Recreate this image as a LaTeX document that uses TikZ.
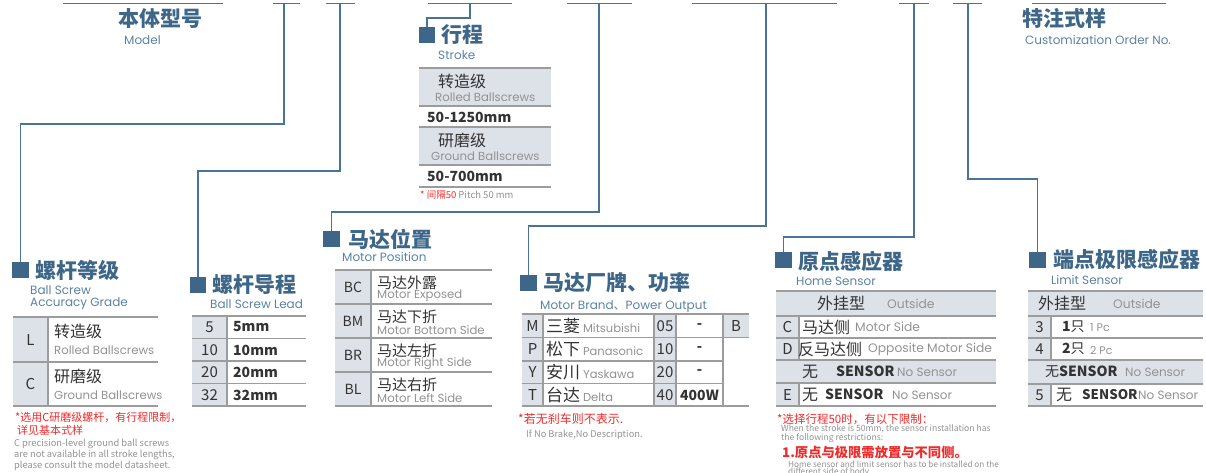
\documentclass[tikz,border=0pt]{standalone}
\usepackage{fontspec}
\newfontfamily\cjk{Noto Sans CJK SC}
\newfontfamily\en{Poppins}
\newcommand\fs[1]{\fontsize{#1}{#1}\selectfont}
\definecolor{linec}{HTML}{4A7496}
\definecolor{titlec}{HTML}{3D6688}
\definecolor{subc}{HTML}{5A82A4}
\definecolor{graybg}{HTML}{DDE1E8}
\definecolor{tlinec}{HTML}{9C9C9C}
\definecolor{txtc}{HTML}{333333}
\definecolor{engc}{HTML}{929292}
\definecolor{redc}{HTML}{EE2A2A}
\tikzset{
 conn/.style={draw=linec, line width=1.4pt},
 mk/.style={fill=titlec, minimum size=16.5pt, inner sep=0pt, draw=none},
 ttlsty/.style={anchor=west, inner sep=0pt, text=titlec, font=\cjk\bfseries\fs{21}},
 substy/.style={anchor=west, inner sep=0pt, text=subc, font=\en\fs{12}},
 cnsty/.style={anchor=west, inner sep=0pt, text=txtc, font=\cjk\fs{16}},
 ensty/.style={anchor=west, inner sep=0pt, text=engc, font=\en\fs{11.7}},
 tcode/.style={inner sep=0pt, text=txtc, font=\cjk\fs{15}},
 bnum/.style={anchor=west, inner sep=0pt, text=txtc, font=\cjk\bfseries\fs{14}},
 rednote/.style={anchor=west, inner sep=0pt, text=redc, font=\cjk\fs{11}},
 graynote/.style={anchor=west, inner sep=0pt, text=engc, font=\cjk\fs{9.3}},
 gfill/.style={fill=graybg, draw=none},
 tl/.style={draw=tlinec, line width=1.2pt},
}
\begin{document}
\begin{tikzpicture}[x=1pt,y=-1pt]
\useasboundingbox (0,0) rectangle (1206,472);
% ---------- top bars ----------
\draw[conn] (63,3.5) -- (223,3.5);
\draw[conn] (273,3.5) -- (300,3.5);
\draw[conn] (326,3.5) -- (355,3.5);
\draw[conn] (428,3.5) -- (512,3.5);
\draw[conn] (567,3.5) -- (632,3.5);
\draw[conn] (692,3.5) -- (837,3.5);
\draw[conn] (899,3.5) -- (929,3.5);
\draw[conn] (953,3.5) -- (982,3.5);
\draw[conn] (1032,3.5) -- (1166,3.5);
\coordinate (tA) at (284,3.5);
\coordinate (tB) at (340,3.5);
\coordinate (tS) at (470,3.5);
\coordinate (tC) at (599,3.5);
\coordinate (tD) at (766,3.5);
\coordinate (tE) at (914,3.5);
\coordinate (tF) at (968,3.5);
% ---------- headings ----------
\node[ttlsty] (hModel) at (118,19) {本体型号};
\node[substy] (hModelE) at (124,40) {Model};
\node[ttlsty] (hCust) at (1022,18) {特注式样};
\node[substy] (hCustE) at (1025,40) {Customization Order No.};
% ---------- markers ----------
\node[mk] (mk0) at (427,35) {};
\node[mk] (mk1) at (20.5,270) {};
\node[mk] (mk2) at (198,285) {};
\node[mk] (mk3) at (331.5,239) {};
\node[mk] (mk4) at (528.5,283) {};
\node[mk] (mk5) at (783.5,260) {};
\node[mk] (mk6) at (1037.5,260) {};
% ---------- connectors ----------
\draw[conn] (tS) -- ++(0,14.5) -| (mk0.north);
\draw[conn] (tA) -- ++(0,120.5) -| (mk1.north);
\draw[conn] (tB) -- ++(0,167.5) -| (mk2.north);
\draw[conn] (tC) -- ++(0,208.5) -| (mk3.north);
\draw[conn] (tD) -- ++(0,222.5) -| (mk4.north);
\draw[conn] (tE) -- ++(0,233.5) -| (mk5.north);
\draw[conn] (tF) -- ++(0,175.5) -| (mk6.north);
% ================= Stroke =================
\node[ttlsty] (hS) at (441,35) {行程};
\node[substy] (hSE) at (438,55) {Stroke};
\fill[gfill] (419,68) rectangle (551,106);
\fill[gfill] (419,127) rectangle (551,165);
\foreach \yy in {68,106,127,165,187} \draw[tl] (419,\yy) -- (551,\yy);
\node[cnsty] (s1) at (438,81) {转造级};
\node[ensty] (s1e) at (435,97) {Rolled Ballscrews};
\node[bnum] (s2) at (427,117) {50-1250mm};
\node[cnsty] (s3) at (438,140) {研磨级};
\node[ensty] (s3e) at (431,156) {Ground Ballscrews};
\node[bnum] (s4) at (427,176) {50-700mm};
\node[rednote, font=\cjk\fs{9.5}] (sn) at (420,195) {* 间隔50 \textcolor{engc}{Pitch 50 mm}};
% ================= Accuracy grade =================
\node[ttlsty] (hA) at (35,270) {螺杆等级};
\node[substy] (hAE1) at (30,290) {Ball Screw};
\node[substy] (hAE2) at (30,304) {Accuracy Grade};
\fill[gfill] (13,317) rectangle (48,406);
\foreach \yy in {317,362,406} \draw[tl] (13,\yy) -- (158,\yy);
\draw[tl] (48,317) -- (48,406);
\node[tcode] (aL) at (30.5,340) {L};
\node[tcode] (aC) at (30.5,384) {C};
\node[cnsty] (a1) at (54,331) {转造级};
\node[ensty] (a1e) at (54,350) {Rolled Ballscrews};
\node[cnsty] (a2) at (54,376) {研磨级};
\node[ensty] (a2e) at (54,395) {Ground Ballscrews};
\node[rednote] (an1) at (15,417) {*选用C研磨级螺杆，有行程限制，};
\node[rednote] (an2) at (17,430) {详见基本式样};
\node[graynote] (an3) at (14,444) {C precision-level ground ball screws};
\node[graynote] (an4) at (14,455) {are not available in all stroke lengths,};
\node[graynote] (an5) at (14,465.5) {please consult the model datasheet.};
% ================= Lead =================
\node[ttlsty] (hL) at (212,285) {螺杆导程};
\node[substy] (hLE) at (210,304) {Ball Screw Lead};
\fill[gfill] (192,316) rectangle (227,406);
\foreach \yy in {316,338.5,361,383.5,406} \draw[tl] (192,\yy) -- (306,\yy);
\draw[tl] (227,316) -- (227,406);
\foreach \v/\yy [count=\i] in {5/327,10/350,20/372,32/395}{
  \node[tcode] (lc\i) at (209.5,\yy) {\v};
  \node[bnum] (lv\i) at (233,\yy) {\v mm};
}
% ================= Motor position =================
\node[ttlsty] (hP) at (348,239) {马达位置};
\node[substy] (hPE) at (342,257) {Motor Position};
\fill[gfill] (335,270) rectangle (371,406);
\foreach \yy in {270,304,338,372,406} \draw[tl] (335,\yy) -- (492,\yy);
\draw[tl] (371,270) -- (371,406);
\foreach \c/\z/\e/\t [count=\i] in {BC/马达外露/Motor Exposed/270,BM/马达下折/Motor Bottom Side/304,BR/马达左折/Motor Right Side/338,BL/马达右折/Motor Left Side/372}{
  \node[tcode, font=\cjk\fs{14}] (pc\i) at (353,\t+17) {\c};
  \node[cnsty, font=\cjk\fs{15}] (pz\i) at (377,\t+13) {\z};
  \node[ensty] (pe\i) at (377,\t+26) {\e};
}
% ================= Motor brand =================
\node[ttlsty] (hB) at (543,283) {马达厂牌、功率};
\node[substy] (hBE) at (540,307) {Motor Brand{\cjk 、}Power Output};
\fill[gfill] (522,314) rectangle (543,406);
\fill[gfill] (654,314) rectangle (676,406);
\fill[gfill] (723,314) rectangle (749,337.5);
\draw[tl] (522,314) -- (749,314);
\draw[tl] (522,406) -- (749,406);
\foreach \yy in {337.5,361,383.5} \draw[tl] (522,\yy) -- (723,\yy);
\draw[tl] (723,337.5) -- (749,337.5);
\foreach \xx in {543,654,676,723} \draw[tl] (\xx,314) -- (\xx,406);
\foreach \c/\z/\e/\n/\w/\yy [count=\i] in {M/三菱/Mitsubishi/05/-/326,P/松下/Panasonic/10/-/349,Y/安川/Yaskawa/20/-/372,T/台达/Delta/40/400W/395}{
  \node[tcode] (bc\i) at (532.5,\yy) {\c};
  \node[cnsty, font=\cjk\fs{17}] (bz\i) at (546,\yy) {\z\,{\en\fs{11.5}\color{engc}\e}};
  \node[tcode] (bn\i) at (665,\yy) {\n};
  \node[tcode, font=\cjk\bfseries\fs{14}] (bw\i) at (699.5,\yy) {\w};
}
\node[tcode] (bB) at (736,326) {B};
\node[rednote, font=\cjk\fs{12}] (bn) at (518,419) {*若无刹车则不表示.};
\node[graynote] (bne) at (526,435) {If No Brake,No Description.};
% ================= Home sensor =================
\node[ttlsty] (hH) at (798,261) {原点感应器};
\node[substy] (hHE) at (796,281) {Home Sensor};
\fill[gfill] (776,291) rectangle (996,316);
\fill[gfill] (776,360) rectangle (996,383);
\fill[gfill] (776,316) rectangle (799,360);
\fill[gfill] (776,383) rectangle (799,406);
\foreach \yy in {291,316,338,360,383,406} \draw[tl] (776,\yy) -- (996,\yy);
\draw[tl] (799,316) -- (799,360);
\draw[tl] (799,383) -- (799,406);
\node[cnsty] (h1) at (817,303.5) {外挂型};
\node[ensty, font=\en\fs{12.3}] (h1e) at (887,303.5) {Outside};
\node[tcode] (hC) at (787.5,327) {C};
\node[cnsty] (h2) at (802,327) {马达侧};
\node[ensty, font=\en\fs{12.3}] (h2e) at (855,327) {Motor Side};
\node[tcode] (hD) at (787.5,349) {D};
\node[cnsty] (h3) at (798,349) {反马达侧};
\node[ensty, font=\en\fs{12.3}] (h3e) at (868,349) {Opposite Motor Side};
\node[cnsty] (h4) at (802,372) {无};
\node[bnum] (h4s) at (836,371.5) {SENSOR};
\node[ensty, font=\en\fs{12}] (h4e) at (897,372) {No Sensor};
\node[tcode] (hE) at (787.5,394.5) {E};
\node[cnsty] (h5) at (802,395) {无};
\node[bnum] (h5s) at (825,394) {SENSOR};
\node[ensty, font=\en\fs{12}] (h5e) at (892,395) {No Sensor};
\node[rednote, font=\cjk\fs{11.5}] (hn1) at (777,419) {*选择行程50时，有以下限制：};
\node[graynote, font=\cjk\fs{8.6}] (hn2) at (781,429) {When the stroke is 50mm, the sensor installation has};
\node[graynote, font=\cjk\fs{8.6}] (hn3) at (781,438) {the following restrictions:};
\node[rednote, font=\cjk\bfseries\fs{13.3}] (hn4) at (782,452) {1.原点与极限需放置与不同侧。};
\node[graynote, font=\cjk\fs{8.2}] (hn5) at (788,464) {Home sensor and limit sensor has to be installed on the};
\node[graynote, font=\cjk\fs{8.2}] (hn6) at (788,472.5) {different side of body.};
% ================= Limit sensor =================
\node[ttlsty] (hT) at (1053,259) {端点极限感应器};
\node[substy] (hTE) at (1051,280) {Limit Sensor};
\fill[gfill] (1028,291) rectangle (1203,316);
\fill[gfill] (1028,360) rectangle (1203,384);
\fill[gfill] (1028,316) rectangle (1051,360);
\fill[gfill] (1028,384) rectangle (1051,406);
\foreach \yy in {291,316,338,360,384,406} \draw[tl] (1028,\yy) -- (1203,\yy);
\draw[tl] (1051,316) -- (1051,360);
\draw[tl] (1051,384) -- (1051,406);
\node[cnsty] (t1) at (1038,303.5) {外挂型};
\node[ensty, font=\en\fs{12.3}] (t1e) at (1113,303.5) {Outside};
\node[tcode] (t3) at (1039.5,327) {3};
\node[bnum] (t2a) at (1062,327) {1{\mdseries 只}};
\node[ensty, font=\en\fs{11}] (t2e) at (1090,328) {1 Pc};
\node[tcode] (t4) at (1039.5,349) {4};
\node[bnum] (t3a) at (1062,349) {2{\mdseries 只}};
\node[ensty, font=\en\fs{11}] (t3e) at (1090,350) {2 Pc};
\node[bnum] (t4a) at (1045,372) {{\mdseries 无}SENSOR};
\node[ensty, font=\en\fs{12}] (t4e) at (1125,372) {No Sensor};
\node[tcode] (t5) at (1039.5,395) {5};
\node[cnsty] (t5a) at (1056,395) {无};
\node[bnum, font=\cjk\bfseries\fs{13.3}] (t5s) at (1082,394.5) {SENSOR};
\node[ensty, font=\en\fs{12}] (t5e) at (1138,395) {No Sensor};
\end{tikzpicture}
\end{document}
